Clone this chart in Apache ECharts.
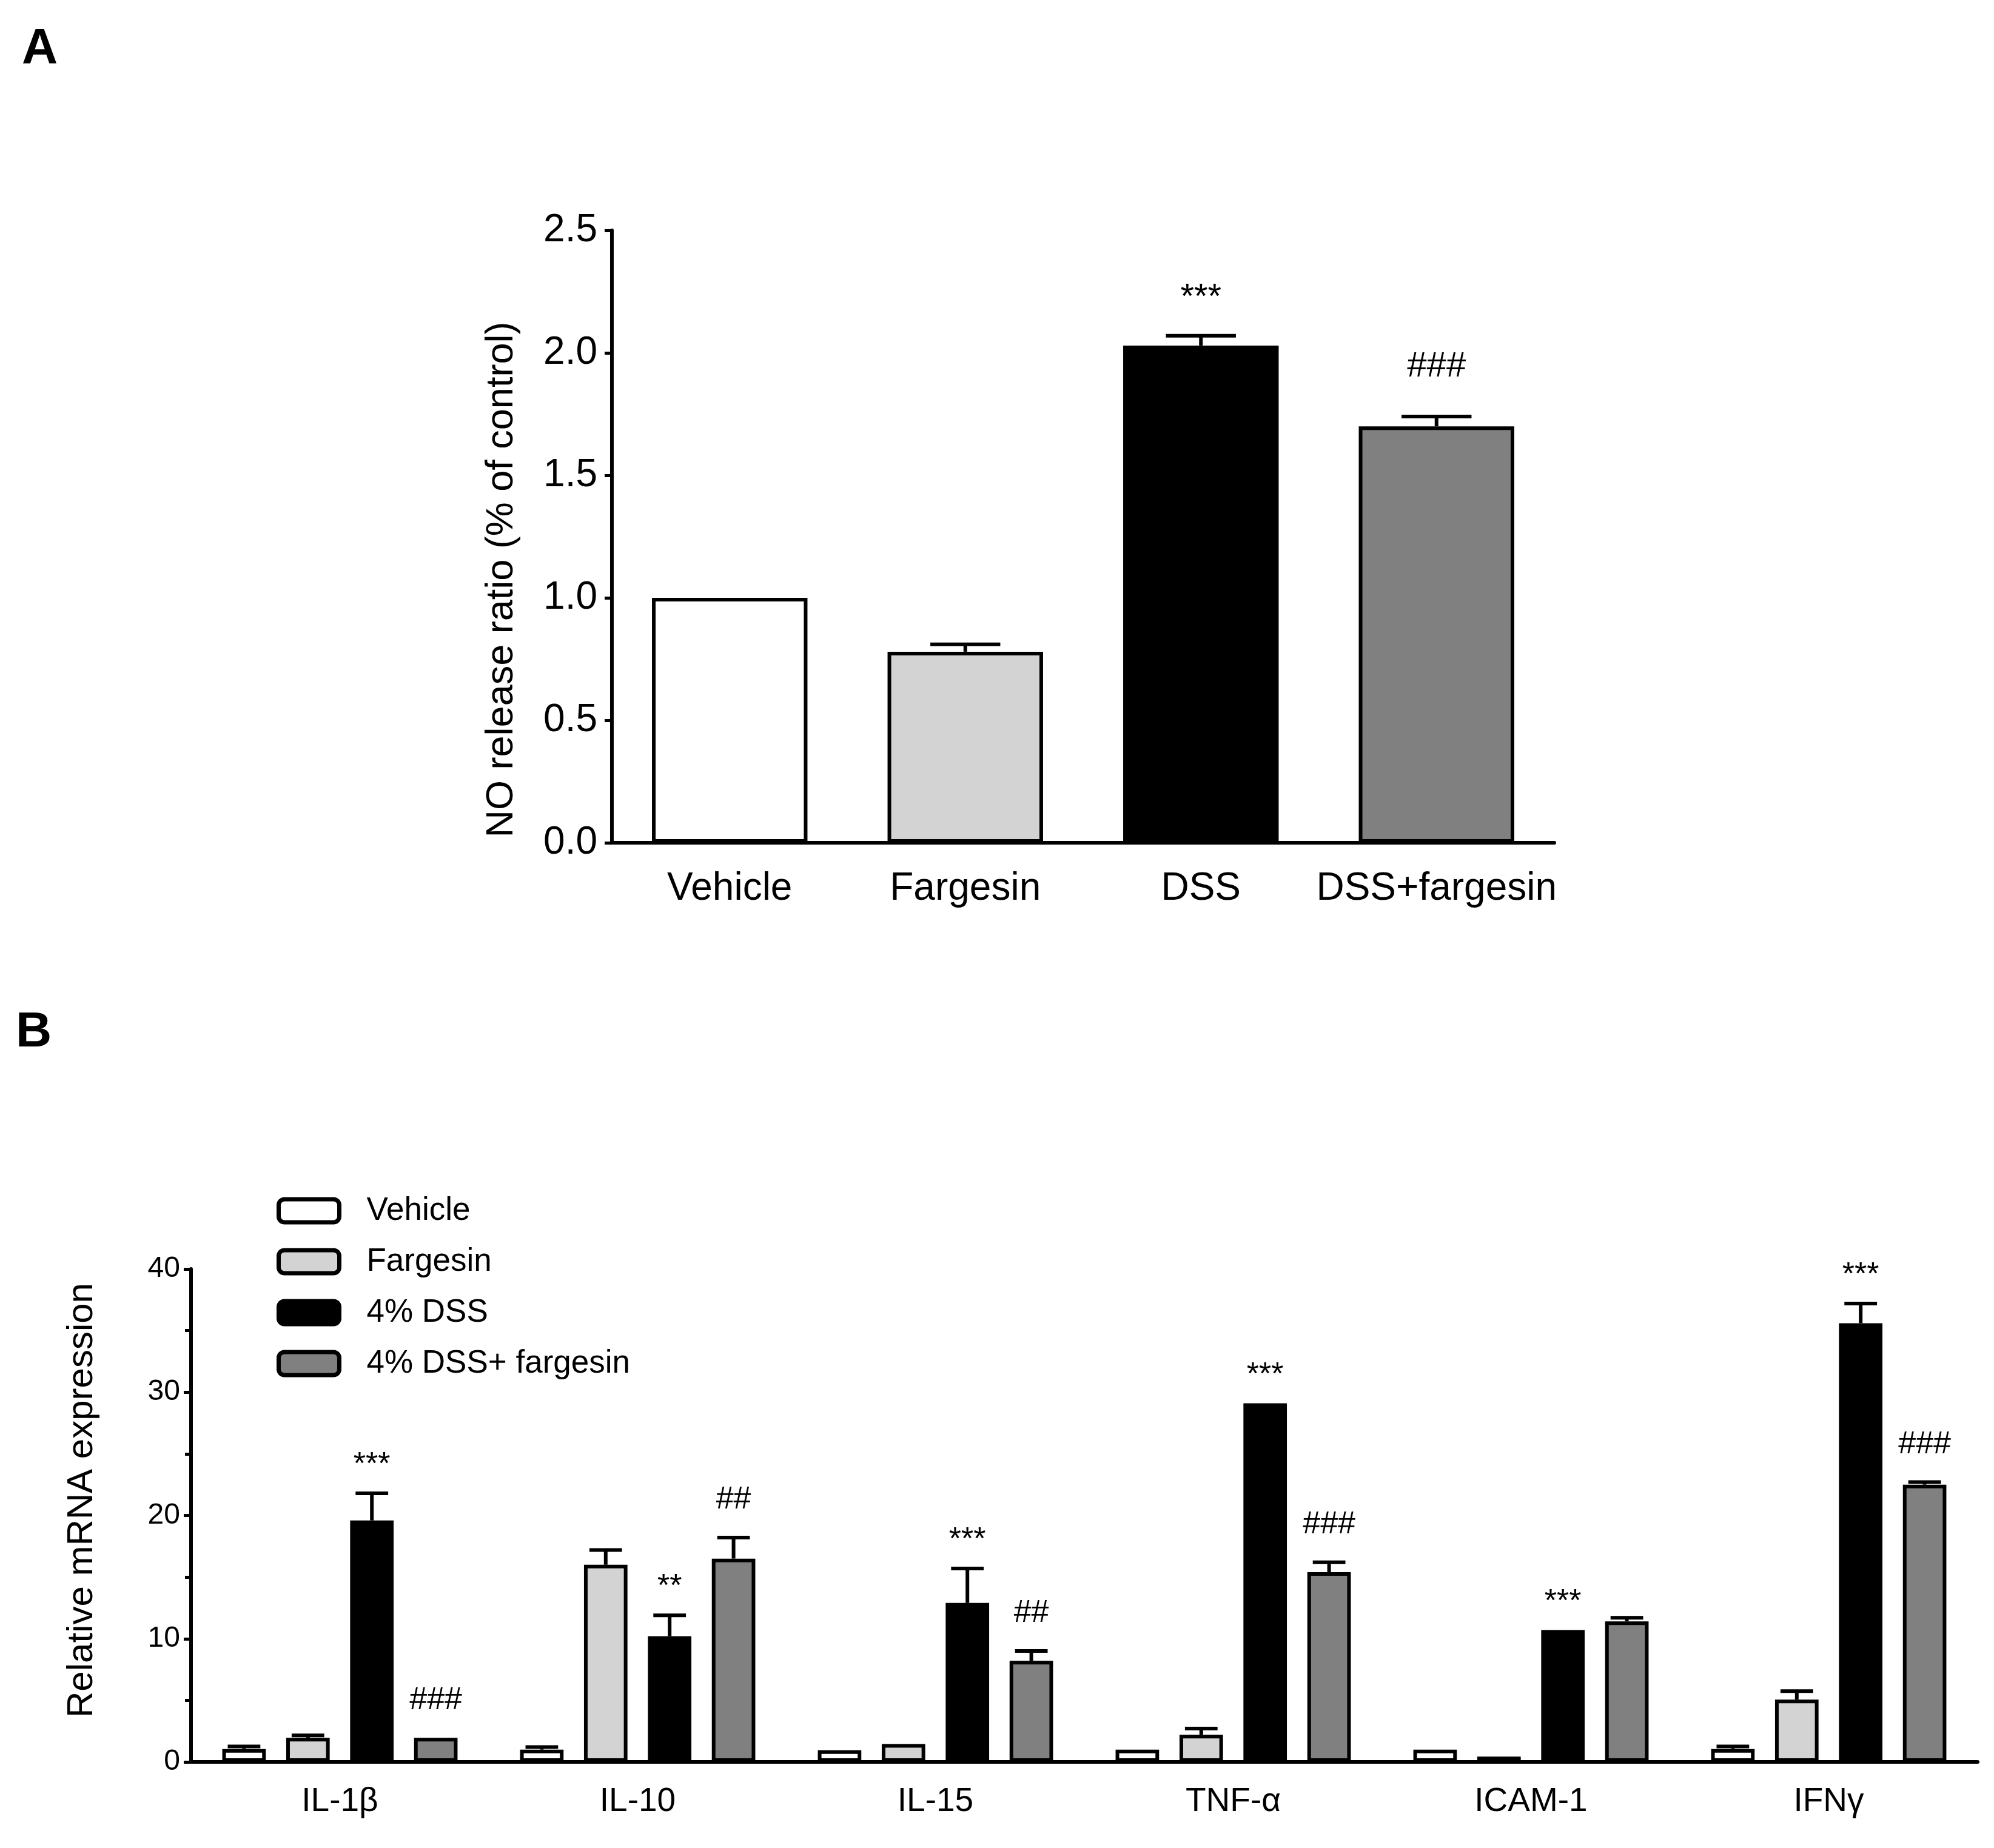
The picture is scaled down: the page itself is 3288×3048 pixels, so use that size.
<!DOCTYPE html>
<html>
<head>
<meta charset="utf-8">
<title>NO release and cytokine mRNA</title>
<script src="https://cdn.jsdelivr.net/npm/echarts@6/dist/echarts.min.js"></script>
<style>
  html, body { margin: 0; padding: 0; background: #fff; }
  #chart { width: 3288px; height: 3048px; }
</style>
</head>
<body>
<div id="chart"></div>
<script>
// Panel A: NO release ratio
const catsA = ['Vehicle', 'Fargesin', 'DSS', 'DSS+fargesin'];
const meanA = [1.0, 0.78, 2.03, 1.70];
const semA = [0, 0.03, 0.04, 0.04];
const sigA = ['', '', '***', '###'];
const colorsA = ['#ffffff', '#d3d3d3', '#000000', '#808080'];

// Panel B: relative mRNA expression
const catsB = ['IL-1β', 'IL-10', 'IL-15', 'TNF-α', 'ICAM-1', 'IFNγ'];
const groupsB = ['Vehicle', 'Fargesin', '4% DSS', '4% DSS+ fargesin'];
const vehicleB = [1.05, 1.0, 0.95, 1.0, 1.0, 1.05];
const fargesinB = [1.95, 16.0, 1.45, 2.2, 0.43, 5.05];
const dssB = [19.6, 10.2, 12.9, 29.1, 10.7, 35.6];
const comboB = [1.95, 16.5, 8.2, 15.4, 11.4, 22.5];
const vehicleErrB = [0.2, 0.2, 0, 0, 0, 0.2];
const fargesinErrB = [0.2, 1.2, 0, 0.5, 0, 0.7];
const dssErrB = [2.2, 1.7, 2.8, 0, 0, 1.6];
const comboErrB = [0, 1.7, 0.8, 0.8, 0.3, 0.2];
const sigDssB = ['***', '**', '***', '***', '***', '***'];
const sigComboB = ['###', '##', '##', '###', '', '###'];
const colorsB = ['#ffffff', '#d3d3d3', '#000000', '#808080'];

const fontA = "'Liberation Sans Narrow', 'Arial Narrow', 'Liberation Sans', sans-serif";
const fontB = "'Liberation Sans', Arial, sans-serif";

// error bar + significance mark, placed on the grouped bar slot
// starOffset / hashOffset: px above the error cap (asterisks sit high in the em box)
function errorBar(slot, nSlots, catGap, barGap, capRatio, lineW, sigs, sigFont, sigSize, starOffset, hashOffset) {
  return function (params, api) {
    const i = api.value(0), m = api.value(1), e = api.value(2);
    const W = api.size([1, 0])[0];
    const used = W * (1 - catGap);
    const bw = used / (nSlots + (nSlots - 1) * barGap);
    const dx = -used / 2 + bw / 2 + slot * bw * (1 + barGap);
    const p0 = api.coord([i, m]);
    const p1 = api.coord([i, m + e]);
    const x = p0[0] + dx;
    const cap = bw * capRatio / 2;
    const children = [];
    if (e > 0) {
      children.push({ type: 'line', shape: { x1: x, y1: p0[1], x2: x, y2: p1[1] },
        style: { stroke: '#000', lineWidth: lineW } });
      children.push({ type: 'line', shape: { x1: x - cap, y1: p1[1], x2: x + cap, y2: p1[1] },
        style: { stroke: '#000', lineWidth: lineW } });
    }
    const s = sigs[params.dataIndex];
    if (s) {
      const off = s.charAt(0) === '*' ? starOffset : hashOffset;
      children.push({ type: 'text', x: x, y: p1[1] - off,
        style: { text: s, fill: '#000', font: sigSize + 'px ' + sigFont, align: 'center', verticalAlign: 'middle' } });
    }
    return { type: 'group', children: children };
  };
}

const chart = echarts.init(document.getElementById('chart'), null, { renderer: 'canvas' });

const seriesB = [vehicleB, fargesinB, dssB, comboB];
const errsB = [vehicleErrB, fargesinErrB, dssErrB, comboErrB];
const sigsB = [[], [], sigDssB, sigComboB];

const option = {
  backgroundColor: '#fff',
  animation: false,
  graphic: [
    { type: 'text', left: 36, top: 40, style: { text: 'A', font: 'bold 82px "Liberation Sans", Arial', fill: '#000' } },
    { type: 'text', left: 26, top: 1662, style: { text: 'B', font: 'bold 82px "Liberation Sans", Arial', fill: '#000' } }
  ],
  legend: {
    data: groupsB,
    orient: 'vertical',
    left: 451,
    top: 1964,
    itemWidth: 100,
    itemHeight: 38,
    itemGap: 28,
    icon: 'roundRect',
    itemStyle: { borderColor: '#000', borderWidth: 7 },
    textStyle: { fontFamily: fontB, fontSize: 53, lineHeight: 56, color: '#000', padding: [0, 0, 0, 40] }
  },
  grid: [
    { left: 1009, right: 725, top: 380, height: 1010 },
    { left: 315, right: 27, top: 2093, height: 813 }
  ],
  xAxis: [
    {
      gridIndex: 0, type: 'category', data: catsA,
      axisLine: { lineStyle: { color: '#000', width: 6 } },
      axisTick: { show: false },
      axisLabel: { color: '#000', fontFamily: fontA, fontSize: 64, margin: 44, interval: 0 }
    },
    {
      gridIndex: 1, type: 'category', data: catsB,
      axisLine: { lineStyle: { color: '#000', width: 6 } },
      axisTick: { show: false },
      axisLabel: { color: '#000', fontFamily: fontB, fontSize: 55, margin: 38, interval: 0 }
    }
  ],
  yAxis: [
    {
      gridIndex: 0, type: 'value', min: 0, max: 2.5, interval: 0.5,
      name: 'NO release ratio (% of control)', nameLocation: 'middle', nameGap: 150,
      nameTextStyle: { color: '#000', fontFamily: fontA, fontSize: 63, padding: [0, 142, 0, 0] },
      axisLine: { show: true, lineStyle: { color: '#000', width: 6 } },
      axisTick: { show: true, length: 12, lineStyle: { color: '#000', width: 5 } },
      axisLabel: { color: '#000', fontFamily: fontA, fontSize: 64, margin: 24,
        formatter: v => v.toFixed(1) },
      splitLine: { show: false }
    },
    {
      gridIndex: 1, type: 'value', min: 0, max: 40, interval: 10,
      name: 'Relative mRNA expression', nameLocation: 'middle', nameGap: 150,
      nameTextStyle: { color: '#000', fontFamily: fontB, fontSize: 60, padding: [0, 0, 0, 50] },
      axisLine: { show: true, lineStyle: { color: '#000', width: 6 } },
      axisTick: { show: true, length: 12, lineStyle: { color: '#000', width: 5 } },
      minorTick: { show: true, splitNumber: 2, length: 10, lineStyle: { color: '#000', width: 5 } },
      axisLabel: { color: '#000', fontFamily: fontB, fontSize: 48, margin: 18 },
      splitLine: { show: false }
    }
  ],
  series: []
};

// Panel A bars
option.series.push({
  type: 'bar', xAxisIndex: 0, yAxisIndex: 0, barCategoryGap: '34%',
  data: meanA.map((v, i) => ({ value: v, itemStyle: { color: colorsA[i] } })),
  itemStyle: { borderColor: '#000', borderWidth: 6 },
  z: 2
});
option.series.push({
  type: 'custom', xAxisIndex: 0, yAxisIndex: 0,
  renderItem: errorBar(0, 1, 0.34, 0, 0.45, 6, sigA, fontA, 58, 62, 82),
  data: meanA.map((v, i) => [i, v, semA[i]]),
  encode: { x: 0, y: 1 },
  z: 3
});

// Panel B grouped bars
groupsB.forEach((name, k) => {
  option.series.push({
    name: name, type: 'bar', xAxisIndex: 1, yAxisIndex: 1,
    barCategoryGap: '21%', barGap: '47%',
    data: seriesB[k],
    itemStyle: { color: colorsB[k], borderColor: '#000', borderWidth: 6 },
    z: 2
  });
});
groupsB.forEach((name, k) => {
  option.series.push({
    type: 'custom', xAxisIndex: 1, yAxisIndex: 1,
    renderItem: errorBar(k, 4, 0.21, 0.47, 0.75, 6, sigsB[k], fontB, 52, 46, 62),
    data: seriesB[k].map((v, i) => [i, v, errsB[k][i]]),
    encode: { x: 0, y: 1 },
    z: 3
  });
});

chart.setOption(option);
</script>
</body>
</html>
